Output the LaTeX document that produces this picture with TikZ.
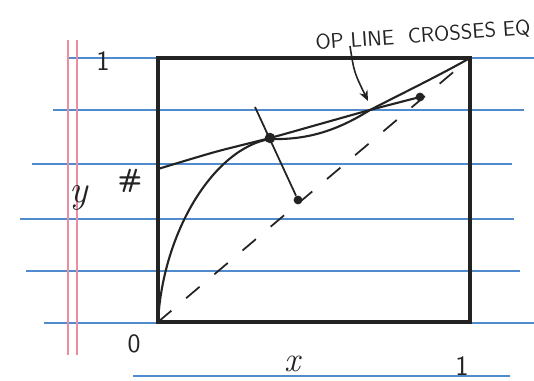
\documentclass[tikz,border=0pt]{standalone}
\usepackage{tikz}
\usetikzlibrary{arrows.meta}

\definecolor{ink}{RGB}{35,35,35}
\definecolor{rulingblue}{RGB}{80,140,205}
\definecolor{marginred}{RGB}{235,140,160}

\begin{document}
\begin{tikzpicture}[
        x=0.02cm, y=-0.02cm,
        ruling/.style={draw=rulingblue, line width=1.5pt},
        margin/.style={draw=marginred, line width=0.9pt},
        frame/.style={draw=ink, line width=1.9pt},
        curve/.style={draw=ink, line width=1.2pt},
        dot/.style={circle, fill=ink, inner sep=0pt, minimum size=#1},
        dot/.default=4pt,
        hand/.style={text=ink, font=\sffamily, inner sep=0pt},
        arrow/.style={-{Stealth[length=6pt, width=5pt]}, line width=0.9pt, draw=ink}
        ]
        \useasboundingbox (0,0) rectangle (534,381);

        % notebook paper
        \foreach \y/\xa/\xb in {58/68/534, 110/53/524, 164/32/512, 219/20/514,
                                271/26/520, 323/44/534, 376/133/510}
            \draw[ruling] (\xa,\y) -- (\xb,\y);
        \draw[margin] (68,40) -- (68,355);
        \draw[margin] (77,40) -- (77,355);

        % box
        \coordinate (O) at (158,322);
        \coordinate (TR) at (470,58);
        \draw[frame] (O) rectangle (TR);

        % diagonal
        \draw[ink, line width=1pt, dash pattern=on 10pt off 11pt] (O) -- (TR);

        % equilibrium curve
        \draw[curve] (O) .. controls (163,230) and (215,148) .. (270,139)
            .. controls (305,140) and (335,132) .. (370,110)
            .. controls (405,92) and (440,75) .. (TR);

        % operating line
        \coordinate (opstart) at (158,169);
        \coordinate (cross) at (370,110);
        \draw[curve] plot[smooth] coordinates {(158,169) (215,152) (270,138)
            (320,124) (370,110) (420,97)};

        % tie line
        \coordinate (tietop) at (255,107);
        \node[dot=6pt] (pt) at (270,138) {};
        \node[dot=5pt] (ptx) at (298,200) {};
        \node[dot=5pt] (ptend) at (420,97) {};
        \draw[curve, line width=1pt] (tietop) -- (ptx);

        % labels
        \node[hand, font=\sffamily\fontsize{16}{16}\selectfont] (one_y) at (103,61) {1};
        \node[hand, font=\sffamily\fontsize{15}{15}\selectfont] (zero) at (134,344) {0};
        \node[hand, font=\itshape\fontsize{20}{20}\selectfont] (lblx) at (292,364) {x};
        \node[hand, font=\sffamily\fontsize{16}{16}\selectfont] (one_x) at (462,366) {1};
        \node[hand, font=\itshape\fontsize{22}{22}\selectfont] (lbly) at (79,198) {y};
        \node[hand, font=\sffamily\bfseries\fontsize{15}{15}\selectfont] (hash) at (130,181) {\#};
        \node[hand, font=\sffamily\fontsize{12}{12}\selectfont, rotate=4] (note) at (423,36)
            {OP LINE\ \ CROSSES EQ};

        \coordinate (tail) at (350,46);
        \coordinate (tip) at (368,101);
        \draw[arrow] (tail) .. controls (354,72) .. (tip);
    \end{tikzpicture}
\end{document}
